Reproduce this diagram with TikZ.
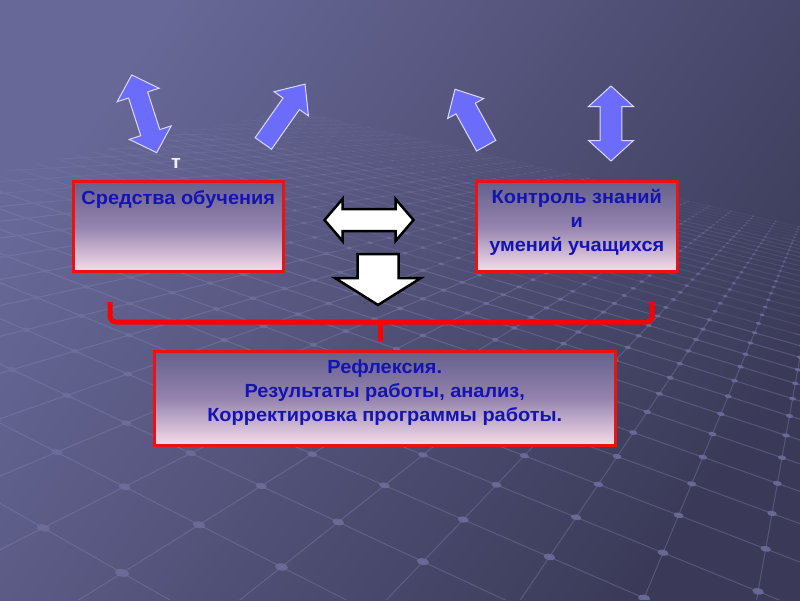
\documentclass[tikz,border=0pt]{standalone}
\usepackage{fontspec}
\setmainfont{Liberation Sans}
\newfontfamily\boxfont{Liberation Sans}[FakeStretch=1.05]
\usetikzlibrary{calc}
\definecolor{bgtop}{HTML}{686898}
\definecolor{bgbot}{HTML}{3A3A58}
\definecolor{gline}{HTML}{8C8CBA}
\definecolor{gdotc}{HTML}{6E6E9C}
\definecolor{bluearr}{HTML}{6C6CFA}
\definecolor{txtblue}{HTML}{1414B4}
\definecolor{boxred}{HTML}{EE1111}
\definecolor{boxtop}{HTML}{64608C}
\definecolor{boxmid}{HTML}{9483AE}
\definecolor{boxbot}{HTML}{F7DDEB}
\newcommand\mkDbl[8]{% cx cy angle L headlen headhalf shafthalf style
  \begin{scope}[shift={(#1,#2)},rotate=#3]
    \draw[#8] ({-#4/2},0) -- ({-#4/2+#5},#6) -- ({-#4/2+#5},#7) -- ({#4/2-#5},#7) -- ({#4/2-#5},#6) -- ({#4/2},0)
      -- ({#4/2-#5},-#6) -- ({#4/2-#5},-#7) -- ({-#4/2+#5},-#7) -- ({-#4/2+#5},-#6) -- cycle;
  \end{scope}}
\newcommand\mkSgl[8]{% cx cy angle L headlen headhalf shafthalf style
  \begin{scope}[shift={(#1,#2)},rotate=#3]
    \draw[#8] ({-#4/2},#7) -- ({#4/2-#5},#7) -- ({#4/2-#5},#6) -- ({#4/2},0)
      -- ({#4/2-#5},-#6) -- ({#4/2-#5},-#7) -- ({-#4/2},-#7) -- cycle;
  \end{scope}}
% projection of ground point (X,Z) -> \sx,\sy
\newcommand\gproj[2]{%
  \pgfmathsetmacro\ga{861*(#1)/(#2)}%
  \pgfmathsetmacro\gb{861/(#2)}%
  \pgfmathsetmacro\sx{443+\ga*0.984-\gb*0.176}%
  \pgfmathsetmacro\sy{52+\ga*0.176+\gb*0.984}}
% grid index (i,j) -> \sx,\sy
\newcommand\gpt[2]{\gproj{\gs*((#1)*\gsa-(#2)*\gca)}{\gs*((#1)*\gca+(#2)*\gsa)}}
\begin{document}
\begin{tikzpicture}[x=1pt,y=-1pt,
  gridline/.style={draw=gline,opacity=#1,line width=1pt},
  gdot/.style={fill=gdotc,opacity=#1},
  bluearrow/.style={fill=bluearr,draw=white!85!blue,line width=1pt,line join=miter},
  whitearrow/.style={fill=white,draw=black,line width=2.5pt,line join=miter},
  box/.style={draw=boxred,line width=2.5pt,top color=boxtop,bottom color=boxbot,middle color=boxmid,minimum width=#1,anchor=north west,inner sep=0pt},
  boxtext/.style={text=txtblue,font=\boxfont\bfseries\fontsize{19}{#1}\selectfont,align=center,inner sep=0pt},
  bracket/.style={draw=red,line width=5pt,rounded corners=6pt}]
\useasboundingbox (0,0) rectangle (800,600);
\shade[top color=bgtop,bottom color=bgbot,shading angle=55] (0,0) rectangle (800,600);
% perspective grid (rolled camera)
\def\gs{0.2}
\def\gsa{0.426}
\def\gca{0.905}
\begin{scope}
\clip (0,172) -- (300,108) -- (800,218) -- (800,600) -- (0,600) -- cycle;
\foreach \j in {-3,...,29}{
  \pgfmathsetmacro\ia{max(0,(1.2/\gs-\j*\gsa)/\gca)}
  \pgfmathsetmacro\ib{max(\ia,min(43,(4/\gs-\j*\gsa)/\gca))}
  \pgfmathsetmacro\ic{max(\ib,min(43,(7/\gs-\j*\gsa)/\gca))}
  \gpt{\ia}{\j}\coordinate (ga) at (\sx,\sy);
  \gpt{\ib}{\j}\coordinate (gb) at (\sx,\sy);
  \gpt{\ic}{\j}\coordinate (gc) at (\sx,\sy);
  \gpt{43}{\j}\coordinate (gd) at (\sx,\sy);
  \draw[gridline=0.34] (ga) -- (gb);
  \draw[gridline=0.18] (gb) -- (gc);
  \draw[gridline=0.08] (gc) -- (gd);
}
\foreach \i in {0,...,43}{
  \pgfmathsetmacro\ja{max(-3,(1.2/\gs-\i*\gca)/\gsa)}
  \ifdim\ja pt<29pt
  \pgfmathsetmacro\jb{max(\ja,min(29,(4/\gs-\i*\gca)/\gsa))}
  \pgfmathsetmacro\jc{max(\jb,min(29,(7/\gs-\i*\gca)/\gsa))}
  \gpt{\i}{\ja}\coordinate (ga) at (\sx,\sy);
  \gpt{\i}{\jb}\coordinate (gb) at (\sx,\sy);
  \gpt{\i}{\jc}\coordinate (gc) at (\sx,\sy);
  \gpt{\i}{29}\coordinate (gd) at (\sx,\sy);
  \draw[gridline=0.34] (ga) -- (gb);
  \draw[gridline=0.18] (gb) -- (gc);
  \draw[gridline=0.08] (gc) -- (gd);
  \fi
}
\foreach \i in {0,...,43}{\foreach \j in {-3,...,29}{
  \pgfmathsetmacro\Z{\gs*(\i*\gca+\j*\gsa)}
  \ifdim\Z pt>1.2pt
    \gproj{\gs*(\i*\gsa-\j*\gca)}{\Z}
    \ifdim\sx pt>-20pt \ifdim\sx pt<820pt \ifdim\sy pt<620pt
      \pgfmathsetmacro\rr{10.5/\Z}
      \pgfmathsetmacro\op{min(0.85,3.5/\Z)}
      \fill[gdot=\op,rotate around={-10:(\sx,\sy)}] (\sx,\sy) ellipse [x radius=\rr pt, y radius=0.55*\rr pt];
    \fi\fi\fi
  \fi
}}
\end{scope}
% blue arrows
\mkDbl{144.2}{113.8}{-72.2}{81.6}{21}{22}{10}{bluearrow}
\mkSgl{284.2}{113.8}{54.9}{72.5}{24}{21}{10}{bluearrow}
\mkSgl{470.6}{117.5}{118.9}{64.5}{22}{20.6}{11}{bluearrow}
\mkDbl{611}{123.5}{90}{75}{20.5}{22.5}{10.8}{bluearrow}
\node[text=white!88!gray,font=\boxfont\bfseries\fontsize{19}{19}\selectfont,inner sep=0pt,anchor=base] (t) at (176,168) {т};
% boxes
\node[box=210pt,minimum height=90pt] (b1) at (72,180) {};
\node[boxtext=24] (b1t) at ($(b1.north)+(0,19)$) {Средства обучения};
\node[box=201pt,minimum height=90pt] (b2) at (475,180) {};
\node[boxtext=24,anchor=north] (b2t) at ($(b2.north)+(0,9)$) {Контроль знаний\\и\\умений учащихся};
\node[box=461pt,minimum height=94pt] (b3) at (153,350) {};
\node[boxtext=24] (b3t) at ($(b3.north)+(0,43)$) {Рефлексия.\\Результаты работы, анализ,\\Корректировка программы работы.};
% white arrows
\mkDbl{369}{220}{0}{89}{18}{21}{11}{whitearrow}
\mkSgl{378}{279.5}{-90}{51}{27}{43}{20.5}{whitearrow}
% bracket
\coordinate (brL) at (110,302);
\coordinate (brR) at (652,302);
\coordinate (brM) at (380,322);
\coordinate (brT) at (380,341);
\draw[bracket] (brL) -- (brL |- brM) -- (brR |- brM) -- (brR);
\draw[bracket,rounded corners=0pt] (brM) -- (brT);
\end{tikzpicture}
\end{document}
